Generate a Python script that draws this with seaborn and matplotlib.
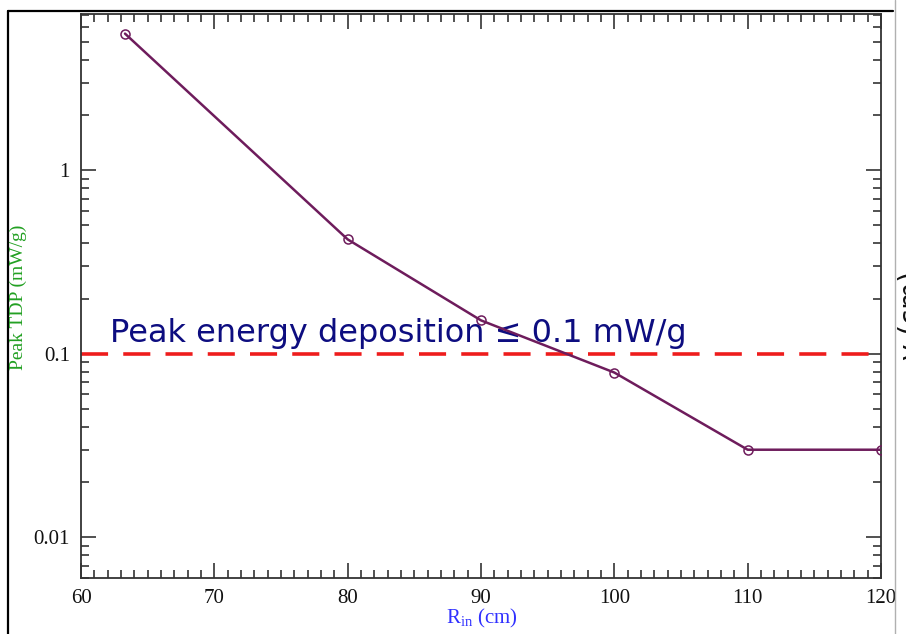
import matplotlib
matplotlib.use("Agg")
import matplotlib.pyplot as plt
import matplotlib.ticker as mticker
from matplotlib.lines import Line2D
import seaborn as sns
import pandas as pd

# Data
r_in = [63.3, 80, 90, 100, 110, 120]
peak_tdp = [5.55, 0.42, 0.152, 0.079, 0.030, 0.030]
limit = 0.1
x_ticks = [60, 70, 80, 90, 100, 110, 120]
y_ticks = [0.01, 0.1, 1]
y_tick_labels = ["0.01", "0.1", "1"]

sns.set_theme(style="ticks")
plt.rcParams["font.family"] = ["DejaVu Sans"]

df = pd.DataFrame({"r": r_in, "tdp": peak_tdp})

fig = plt.figure(figsize=(9.06, 6.34), dpi=100)
ax = fig.add_axes([81/906, 1-578/634, 800/906, (578-14)/634])

ax.set_yscale("log")
ax.set_xlim(60, 120)
ax.set_ylim(0.006, 7.1)

# threshold line
ax.axhline(limit, color="#ee1c1c", lw=2.6, linestyle=(0, (7.5, 4.2)), zorder=2)

ax.text(62.2, 0.116, "Peak energy deposition \u2264 0.1 mW/g",
        color="#0d0d80", fontsize=23, ha="left", va="baseline",
        family=["DejaVu Sans"], zorder=3)

sns.lineplot(data=df, x="r", y="tdp", ax=ax, color="#6e1c5c", lw=1.8,
             marker="o", markersize=6.5, markerfacecolor="none",
             markeredgecolor="#6e1c5c", markeredgewidth=1.1, zorder=4)
ax.set_xlabel("")
ax.set_ylabel("")

serif = ["Liberation Serif", "DejaVu Serif"]
ax.set_xticks(x_ticks)
ax.xaxis.set_minor_locator(mticker.MultipleLocator(1))
ax.set_yticks(y_ticks)
ax.set_yticklabels(y_tick_labels)
ax.yaxis.set_minor_locator(mticker.LogLocator(base=10, subs=range(2, 10)))
ax.yaxis.set_minor_formatter(mticker.NullFormatter())

ax.tick_params(which="both", direction="in", top=True, right=True,
               color="#333333", width=1.2)
ax.tick_params(which="major", length=11, labelsize=15, pad=8)
ax.tick_params(which="minor", length=6)
for lab in ax.get_xticklabels() + ax.get_yticklabels():
    lab.set_family(serif)
    lab.set_color("#111111")
for s in ax.spines.values():
    s.set_color("#333333")
    s.set_linewidth(1.3)

# axis labels placed as in the reference
fig.text(482/906, 1-618/634, "R$_{\\mathregular{in}}$ (cm)", color="#3030ff",
         fontsize=15, family=serif, ha="center", va="center")
fig.text(18/906, 1-297/634, "Peak TDP (mW/g)", color="#22a022", fontsize=14,
         family=serif, ha="center", va="center", rotation=90)

# slide frame
fig.add_artist(Line2D([8/906, 8/906], [0, 1-11/634], color="black", lw=1.6))
fig.add_artist(Line2D([8/906, 893/906], [1-11/634, 1-11/634], color="black", lw=1.6))
fig.add_artist(Line2D([895/906, 895/906], [0, 1], color="#b0b0b0", lw=1.0))
fig.text(912/906, 1-315/634, "y (cm)", rotation=90, ha="center", va="center",
         fontsize=20, color="#111111")

fig.savefig("out.png", dpi=100)
